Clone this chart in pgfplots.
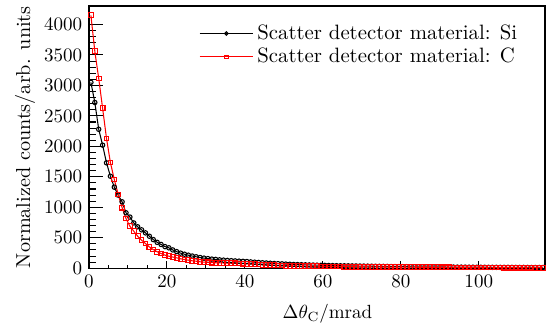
\documentclass[border=0pt]{standalone}
\usepackage{pgfplots}
\pgfplotsset{compat=1.18}
\usepackage{pgfplotstable}
\pgfplotstableread{
x y
0.5 3050
1.5 2720
2.5 2280
3.5 2020
4.5 1730
5.5 1510
6.5 1330
7.5 1200
8.5 1090
9.5 910
10.5 840
11.5 743
12.5 680
13.5 630
14.5 580
15.5 525
16.5 470
17.5 425
18.5 390
19.5 355
20.5 335
21.5 300
22.5 272
23.5 248
24.5 230
25.5 214
26.5 200
27.5 188
28.5 176
29.5 166
30.5 158
31.5 150
32.5 145
33.5 138
34.5 133
35.5 128
36.5 124
37.5 120
38.5 116
39.5 113
40.5 110
41.5 104
42.5 99
43.5 95
44.5 90
45.5 86
46.5 82
47.5 78
48.5 75
49.5 72
50.5 68
51.5 65
52.5 62
53.5 60
54.5 58
55.5 56
56.5 54
57.5 52
58.5 50
59.5 48
60.5 47
61.5 45
62.5 44
63.5 42
64.5 41
65.5 40
66.5 39
67.5 38
68.5 37
69.5 36
70.5 35
71.5 34
72.5 33
73.5 32
74.5 31
75.5 30
76.5 29
77.5 28
78.5 27
79.5 26
80.5 25
81.5 25
82.5 24
83.5 24
84.5 23
85.5 23
86.5 22
87.5 22
88.5 21
89.5 21
90.5 20
91.5 20
92.5 19
93.5 19
94.5 18
95.5 18
96.5 18
97.5 17
98.5 17
99.5 16
100.5 16
101.5 16
102.5 15
103.5 15
104.5 15
105.5 14
106.5 14
107.5 14
108.5 14
109.5 13
110.5 13
111.5 13
112.5 13
113.5 12
114.5 12
115.5 12
116.5 12
}\sidata
\pgfplotstableread{
x y
0.5 4150
1.5 3560
2.5 3115
3.5 2625
4.5 2130
5.5 1735
6.5 1455
7.5 1210
8.5 995
9.5 815
10.5 690
11.5 607
12.5 525
13.5 460
14.5 405
15.5 350
16.5 306
17.5 270
18.5 241
19.5 215
20.5 197
21.5 184
22.5 170
23.5 155
24.5 143
25.5 132
26.5 122
27.5 115
28.5 106
29.5 100
30.5 96
31.5 92
32.5 90
33.5 88
34.5 86
35.5 84
36.5 82
37.5 80
38.5 78
39.5 76
40.5 73
41.5 70
42.5 66
43.5 62
44.5 58
45.5 55
46.5 52
47.5 49
48.5 46
49.5 44
50.5 42
51.5 40
52.5 38
53.5 36
54.5 35
55.5 34
56.5 33
57.5 32
58.5 31
59.5 30
60.5 29
61.5 28
62.5 28
63.5 27
64.5 27
65.5 26
66.5 25
67.5 25
68.5 24
69.5 24
70.5 23
71.5 22
72.5 22
73.5 21
74.5 21
75.5 20
76.5 20
77.5 19
78.5 19
79.5 18
80.5 18
81.5 17
82.5 17
83.5 17
84.5 16
85.5 16
86.5 16
87.5 15
88.5 15
89.5 15
90.5 14
91.5 14
92.5 14
93.5 13
94.5 13
95.5 13
96.5 13
97.5 12
98.5 12
99.5 12
100.5 12
101.5 11
102.5 11
103.5 11
104.5 11
105.5 11
106.5 10
107.5 10
108.5 10
109.5 10
110.5 10
111.5 10
112.5 10
113.5 10
114.5 9
115.5 9
116.5 9
}\cdata
\begin{document}
\begin{tikzpicture}
% secondary axis: only the short x ticks
\begin{axis}[
  scale only axis,
  width=239.4pt, height=137.55pt,
  xmin=0, xmax=117, ymin=0, ymax=4300,
  xtick={0,20,40,60,80,100},
  minor x tick num=3,
  ytick=\empty,
  xticklabels={},
  tick align=inside,
  xtick pos=bottom,
  major tick length=3.7pt, minor tick length=1.85pt,
  x tick style={line width=0.55pt, black},
  axis line style={draw=none},
]
\end{axis}
\begin{axis}[
  name=ax,
  scale only axis,
  width=239.4pt, height=137.55pt,
  xmin=0, xmax=117, ymin=0, ymax=4300,
  xtick={0,20,40,60,80,100},
  ytick={0,500,1000,1500,2000,2500,3000,3500,4000},
  minor y tick num=4,
  tick align=inside,
  xtick pos=bottom, ytick pos=left,
  major tick length=7.35pt, minor tick length=3.7pt,
  x tick style={draw=none},
  y tick style={line width=0.55pt, black},
  axis line style={line width=0.75pt},
  scaled ticks=false,
  yticklabel style={/pgf/number format/1000 sep={}},
  xlabel={$\Delta\theta_{\mathrm{C}}$/mrad},
  xlabel style={at={(ticklabel cs:0.523)}, yshift=-2pt},
  ylabel={Normalized counts/arb. units},
  ylabel style={font=\fontsize{10.6}{12}\selectfont},
  ylabel shift=-2.2pt,
  legend style={draw=none, fill=none, at={(0.948,0.945)}, anchor=north east, font=\fontsize{10.9}{13}\selectfont, row sep=-1pt, inner sep=0pt},
  legend cell align=left,
  legend image code/.code={\draw[mark repeat=2,mark phase=2,#1, mark size=0.9pt] plot coordinates {(0pt,0pt)(14pt,0pt)(28pt,0pt)};},
  clip=true,
]
\addplot[black, line width=0.55pt, mark=o, mark size=1.15pt, mark options={line width=0.55pt}] table[x=x,y=y] {\sidata};
\addlegendentry{Scatter detector material: Si}
\addplot[red, line width=0.55pt, mark=square, mark size=1.25pt, mark options={line width=0.55pt}] table[x=x,y=y] {\cdata};
\addlegendentry{Scatter detector material: C}
\end{axis}
\path (ax.south west) ++(-46.7pt,-30.5pt) coordinate (bbA);
\path (ax.north east) ++(2.6pt,3.15pt) coordinate (bbB);
\path (bbA) rectangle (bbB);
\end{tikzpicture}
\end{document}
